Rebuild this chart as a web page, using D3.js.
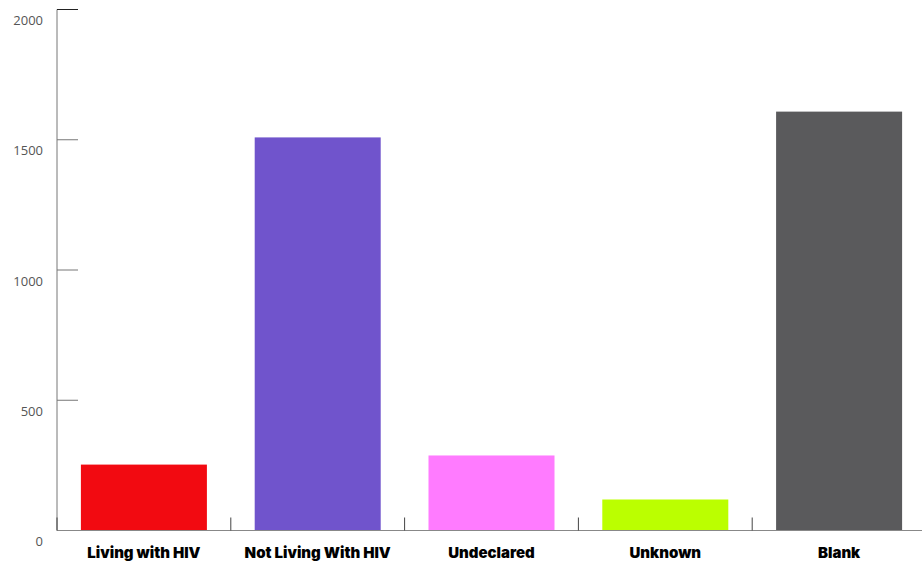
<!DOCTYPE html>
<html><head><meta charset="utf-8">
<script src="https://cdn.jsdelivr.net/npm/d3@7"></script>
<style>
body{margin:0;background:#fff;}
svg{display:block;}
</style></head>
<body><svg id="chart" width="922" height="566"></svg>
<script>
const categories = ["Living with HIV","Not Living With HIV","Undeclared","Unknown","Blank"];
const values = [253, 1509, 288, 119, 1608];
const colors = ["#f20a11","#7054cc","#ff7bff","#bbff00","#5a5a5c"];
const yTicks = [0, 500, 1000, 1500, 2000];

const svg = d3.select("#chart");
const x0 = 57, yTop = 9.5, yBot = 530.5;
const x = d3.scaleBand().domain(categories).range([x0, 926]).paddingInner(0.275).paddingOuter(0.1375);
const y = d3.scaleLinear().domain([0, 2000]).range([yBot, yTop]);

// bars
svg.append("g").selectAll("rect").data(categories).join("rect")
  .attr("x", d => x(d)).attr("width", x.bandwidth())
  .attr("y", (d,i) => y(values[i])).attr("height", (d,i) => yBot - y(values[i]))
  .attr("fill", (d,i) => colors[i]);

// y axis
const yAxis = svg.append("g");
yAxis.append("line").attr("x1", x0).attr("x2", x0).attr("y1", yTop).attr("y2", yBot)
  .attr("stroke", "#777").attr("stroke-width", 1);
yAxis.selectAll("line.tick").data(yTicks).join("line").attr("class","tick")
  .attr("x1", x0).attr("x2", x0 + 21).attr("y1", d => y(d)).attr("y2", d => y(d))
  .attr("stroke", d => d === 2000 || d === 0 ? "#222" : "#777").attr("stroke-width", 1);
yAxis.selectAll("text").data(yTicks).join("text")
  .attr("x", 43).attr("y", d => y(d) + 11).attr("dy", "0.35em")
  .attr("text-anchor", "end")
  .style("font-family", "'Open Sans', sans-serif").style("font-size", "13px")
  .attr("fill", "#555").text(d => d);

// x axis
const xAxis = svg.append("g");
xAxis.append("line").attr("x1", x0).attr("x2", 922).attr("y1", yBot).attr("y2", yBot)
  .attr("stroke", "#888").attr("stroke-width", 1);
const bounds = [x0].concat(categories.slice(1).map(c => x(c) - x.step() * x.paddingInner() / 2));
xAxis.selectAll("line.xt").data(bounds).join("line").attr("class","xt")
  .attr("x1", d => d).attr("x2", d => d).attr("y1", yBot).attr("y2", yBot - 13)
  .attr("stroke", "#444").attr("stroke-width", 1);
xAxis.selectAll("text").data(categories).join("text")
  .attr("x", d => x(d) + x.bandwidth() / 2).attr("y", 553).attr("dy", "0.35em")
  .attr("text-anchor", "middle")
  .style("font-family", "Inter, sans-serif").style("font-size", "15px").style("font-weight", "900")
  .attr("fill", "#000").text(d => d);
</script>
</body></html>
